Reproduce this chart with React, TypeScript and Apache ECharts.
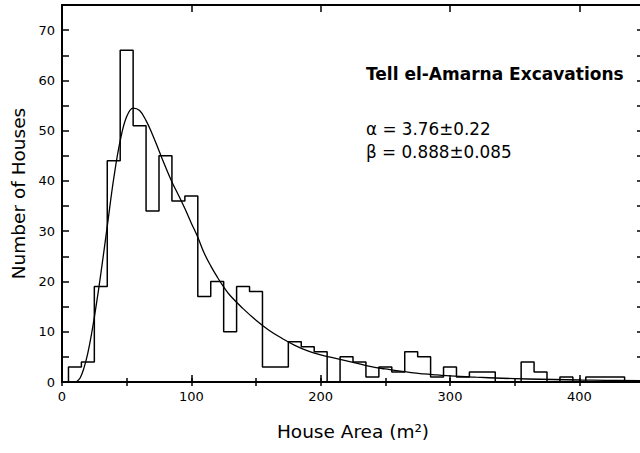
import React, { useEffect, useRef } from "react";
import * as echarts from "echarts";

// Histogram: bin centres (m²), bin width 10, and number of houses per bin
const binCenters = [
  10, 20, 30, 40, 50, 60, 70, 80, 90, 100,
  110, 120, 130, 140, 150, 160, 170, 180, 190, 200,
  210, 220, 230, 240, 250, 260, 270, 280, 290, 300,
  310, 320, 330, 340, 350, 360, 370, 380, 390, 400,
  410, 420, 430, 440,
];
const houseCounts = [
  3, 4, 19, 44, 66, 51, 34, 45, 36, 37,
  17, 20, 10, 19, 18, 3, 3, 8, 7, 6,
  0, 5, 4, 1, 3, 2, 6, 5, 1, 3,
  1, 2, 2, 0, 0, 4, 2, 0, 1, 0,
  1, 1, 1, 0,
];
const binWidth = 10;

// Fitted distribution curve
const fitArea = [
  11, 14, 17, 20, 23, 26, 30, 35, 40, 45, 50, 55, 60, 65, 70, 75, 80, 85, 90, 95,
  100, 105, 110, 115, 120, 125, 130, 140, 150, 160, 170, 180, 190, 200, 210, 220,
  230, 240, 250, 260, 270, 280, 290, 300, 320, 340, 360, 380, 400, 420, 447,
];
const fitHouses = [
  0, 0.8, 2.8, 5.8, 9.8, 14.5, 21.5, 31, 40.5, 48, 52.8, 54.5, 54, 52, 49.2, 46, 42.8, 39.8, 37.2, 34.5,
  31.6, 28.8, 25.6, 23.1, 20.9, 18.9, 17.2, 14.6, 12.3, 10.3, 8.7, 7.3, 6.2, 5.4, 4.8, 4.2,
  3.6, 3.0, 2.6, 2.2, 1.85, 1.6, 1.4, 1.2, 0.95, 0.75, 0.6, 0.5, 0.4, 0.33, 0.27,
];

const xMin = 0;
const xMax = 450;
const yMin = 0;
const yMax = 75;

const titleText = "Tell el-Amarna Excavations";
const alphaText = "\u03B1 = 3.76\u00B10.22";
const betaText = "\u03B2 = 0.888\u00B10.085";
const xName = "House Area (m\u00B2)";
const yName = "Number of Houses";

const FONT = "'DejaVu Sans', 'Liberation Sans', Arial, sans-serif";

export default function App() {
  const ref = useRef<HTMLDivElement>(null);

  useEffect(() => {
    if (!ref.current) return;
    document.body.style.overflow = "hidden";
    const chart = echarts.init(ref.current, null, { renderer: "svg" });

    const histData: number[][] = [];
    histData.push([binCenters[0] - binWidth / 2, 0]);
    binCenters.forEach((c, i) => histData.push([c - binWidth / 2, houseCounts[i]]));
    histData.push([binCenters[binCenters.length - 1] + binWidth / 2, 0]);

    const fitData = fitArea.map((x, i) => [x, fitHouses[i]]);

    const black = "#000";
    const baseX = {
      type: "value" as const,
      min: xMin,
      max: xMax,
      splitLine: { show: false },
      axisLine: { show: true, onZero: false, lineStyle: { color: black, width: 2 } },
    };
    const baseY = {
      type: "value" as const,
      min: yMin,
      max: yMax,
      interval: 5,
      splitLine: { show: false },
      axisLine: { show: true, onZero: false, lineStyle: { color: black, width: 2 } },
      axisTick: { show: true, inside: true, length: 7, lineStyle: { color: black, width: 1.5 } },
    };

    chart.setOption({
      animation: false,
      backgroundColor: "#fff",
      textStyle: { fontFamily: FONT },
      grid: { left: 62, top: 5, width: 582, height: 377, containLabel: false },
      xAxis: [
        {
          ...baseX,
          position: "bottom",
          interval: 100,
          axisTick: { show: true, inside: true, length: 7, lineStyle: { color: black, width: 1.5 } },
          axisLabel: {
            show: true,
            color: black,
            fontSize: 13,
            fontFamily: FONT,
            margin: 8,
            showMaxLabel: false,
          },
          name: xName,
          nameLocation: "middle",
          nameGap: 40,
          nameTextStyle: { color: black, fontSize: 18.5, fontFamily: FONT },
        },
        {
          ...baseX,
          position: "bottom",
          interval: 50,
          axisLine: { show: false },
          axisTick: { show: true, inside: true, length: 4, lineStyle: { color: black, width: 1.5 } },
          axisLabel: { show: false },
        },
        {
          ...baseX,
          position: "top",
          interval: 100,
          axisTick: { show: true, inside: true, length: 7, lineStyle: { color: black, width: 1.5 } },
          axisLabel: { show: false },
        },
        {
          ...baseX,
          position: "top",
          interval: 50,
          axisLine: { show: false },
          axisTick: { show: true, inside: true, length: 4, lineStyle: { color: black, width: 1.5 } },
          axisLabel: { show: false },
        },
      ],
      yAxis: [
        {
          ...baseY,
          position: "left",
          axisLabel: {
            show: true,
            color: black,
            fontSize: 13,
            fontFamily: FONT,
            margin: 7,
            formatter: (v: number) => (v % 10 === 0 ? String(v) : ""),
          },
          name: yName,
          nameLocation: "middle",
          nameGap: 34,
          nameTextStyle: { color: black, fontSize: 18.5, fontFamily: FONT },
        },
        {
          ...baseY,
          position: "right",
          axisLabel: { show: false },
        },
      ],
      series: [
        {
          type: "line",
          name: "histogram",
          xAxisIndex: 0,
          yAxisIndex: 0,
          data: histData,
          step: "end",
          symbol: "none",
          lineStyle: { color: black, width: 1.5 },
          silent: true,
        },
        {
          type: "line",
          name: "fit",
          xAxisIndex: 0,
          yAxisIndex: 0,
          data: fitData,
          smooth: 0.4,
          symbol: "none",
          lineStyle: { color: black, width: 1.3 },
          silent: true,
        },
      ],
      graphic: [
        {
          type: "text",
          left: 366,
          top: 65,
          style: {
            text: titleText,
            fill: black,
            font: `bold 17px ${FONT}`,
          },
        },
        {
          type: "text",
          left: 366,
          top: 120,
          style: {
            text: alphaText,
            fill: black,
            font: `16.8px ${FONT}`,
          },
        },
        {
          type: "text",
          left: 366,
          top: 143,
          style: {
            text: betaText,
            fill: black,
            font: `16.8px ${FONT}`,
          },
        },
      ],
    });

    return () => chart.dispose();
  }, []);

  return (
    <div
      ref={ref}
      style={{ position: "fixed", left: 0, top: 0, width: 648, height: 453 }}
    />
  );
}
